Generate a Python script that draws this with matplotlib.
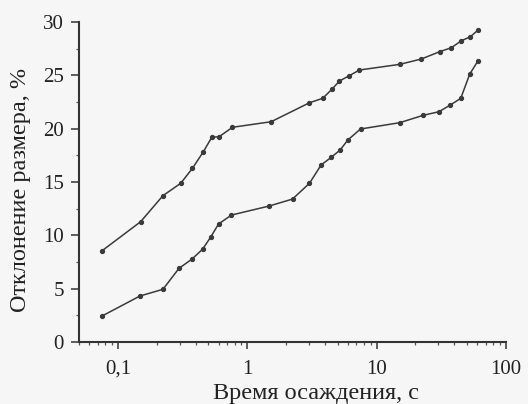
import matplotlib
matplotlib.use('Agg')
import matplotlib.pyplot as plt
from matplotlib.ticker import FixedLocator, FuncFormatter, LogLocator, NullFormatter

# Время осаждения, с
t_upper = [0.0755, 0.150, 0.223, 0.306, 0.377, 0.458, 0.532, 0.607, 0.769,
           1.53, 3.03, 3.84, 4.54, 5.17, 6.10, 7.38, 15.1, 22.2, 30.8,
           37.9, 45.4, 53.2, 61.0]
# Отклонение размера, % (верхняя кривая)
dev_upper = [8.56, 11.28, 13.72, 14.88, 16.28, 17.84, 19.19, 19.25, 20.13,
             20.65, 22.43, 22.85, 23.72, 24.47, 24.94, 25.5, 26.03, 26.53, 27.22,
             27.59, 28.25, 28.62, 29.25]

t_lower = [0.0755, 0.148, 0.223, 0.297, 0.372, 0.451, 0.524, 0.600, 0.755,
           1.48, 2.24, 3.03, 3.73, 4.45, 5.23, 6.0, 7.52, 15.1, 22.9,
           30.4, 37.2, 44.8, 52.6, 61.0]
dev_lower = [2.44, 4.31, 4.94, 6.91, 7.75, 8.69, 9.87, 11.06, 11.9,
             12.75, 13.4, 14.88, 16.6, 17.3, 18.0, 18.94, 19.97, 20.56, 21.25,
             21.59, 22.22, 22.84, 25.12, 26.37]

x_ticks = [0.1, 1, 10, 100]
x_labels = ['0,1', '1', '10', '100']
y_ticks = [0, 5, 10, 15, 20, 25, 30]

plt.rcParams['font.family'] = ['Liberation Serif', 'DejaVu Serif']

fig = plt.figure(figsize=(5.28, 4.04), dpi=100, facecolor='#f6f6f6')
ax = fig.add_axes([0.1496, 0.1535, 0.8084, 0.792])
ax.set_facecolor('#f6f6f6')

line_col = '#3a3a3a'
for t, d in [(t_upper, dev_upper), (t_lower, dev_lower)]:
    ax.plot(t, d, color=line_col, lw=1.1, marker='o', ms=2.8,
            mfc=line_col, mec=line_col)

ax.set_xscale('log')
ax.set_xlim(0.05, 100)
ax.set_ylim(0, 30)

ax.xaxis.set_major_locator(FixedLocator(x_ticks))
ax.xaxis.set_major_formatter(FuncFormatter(
    lambda v, pos: dict(zip(x_ticks, x_labels)).get(v, '')))
ax.xaxis.set_minor_locator(LogLocator(base=10, subs=range(2, 10)))
ax.xaxis.set_minor_formatter(NullFormatter())

ax.yaxis.set_major_locator(FixedLocator(y_ticks))
ax.yaxis.set_minor_locator(FixedLocator([2.5, 7.5, 12.5, 17.5, 22.5, 27.5]))

for side in ['top', 'right']:
    ax.spines[side].set_visible(False)
for side in ['left', 'bottom']:
    ax.spines[side].set_color('#333333')
    ax.spines[side].set_linewidth(1.5)

ax.tick_params(axis='both', which='major', direction='out', length=5,
               width=1.1, color='#333333', labelsize=15, labelcolor='#222222')
ax.tick_params(axis='both', which='minor', direction='out', length=2.5,
               width=0.9, color='#555555')
ax.tick_params(axis='x', which='major', pad=8)
ax.tick_params(axis='y', which='major', length=6, pad=5)

ax.set_xlabel('Время осаждения, с', fontsize=17.5, color='#222222')
ax.xaxis.set_label_coords(0.556, -0.127)
ax.set_ylabel('Отклонение размера, %', fontsize=17.5, color='#222222')
ax.yaxis.set_label_coords(-0.113, 0.475)

fig.savefig('out.png', dpi=100, facecolor=fig.get_facecolor())
